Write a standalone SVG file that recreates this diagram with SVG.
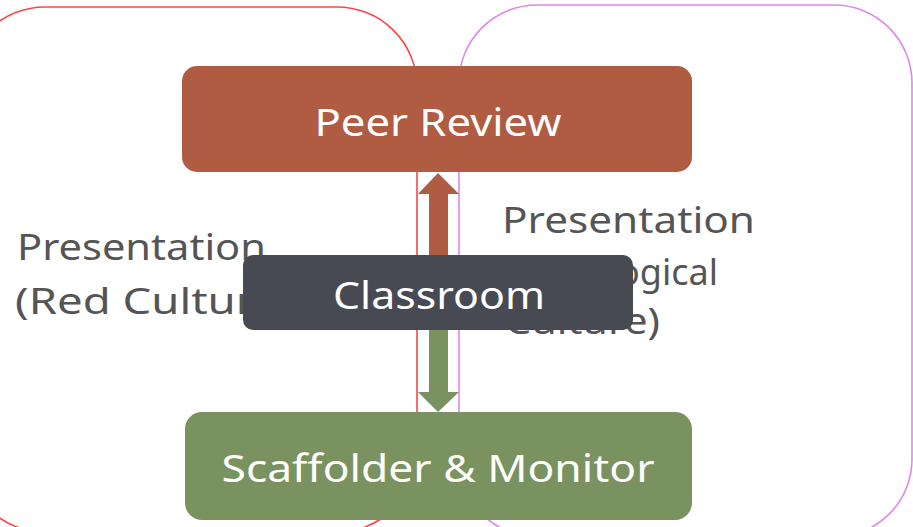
<svg xmlns="http://www.w3.org/2000/svg" width="913" height="527" viewBox="0 0 913 527">
  <style>
    .region { fill: none; stroke-width: 1.6; }
    .label { font-family: "Noto Sans", "Liberation Sans", sans-serif; font-size: 36px; fill: #555555; }
    .boxtext { font-family: "Noto Sans", "Liberation Sans", sans-serif; font-size: 38px; fill: #ffffff; text-anchor: middle; }
  </style>
  <rect width="913" height="527" fill="#ffffff"/>
  <g id="region-red-culture">
    <rect class="region" x="-35" y="7" width="452" height="525" rx="80" ry="80" stroke="#ff4545"/>
    <text class="label" x="17" y="260" textLength="249" lengthAdjust="spacingAndGlyphs">Presentation</text>
    <text class="label" x="15" y="314" textLength="278" lengthAdjust="spacingAndGlyphs">(Red Culture)</text>
  </g>
  <g id="region-ecological-culture">
    <rect class="region" x="459" y="5" width="453" height="532" rx="78" ry="78" stroke="#dd88e6"/>
    <text class="label" x="502" y="233" textLength="253" lengthAdjust="spacingAndGlyphs">Presentation</text>
    <text class="label" x="718" y="285" text-anchor="end">(Ecological</text>
    <text class="label" x="505" y="334" textLength="155" lengthAdjust="spacingAndGlyphs">Culture)</text>
  </g>
  <g id="connectors">
    <polygon points="438,173 459,194 448,194 448,256 429,256 429,194 418,194" fill="#b05c43"/>
    <polygon points="429,329 448,329 448,392 459,392 438,412 418,392 429,392" fill="#7a9260"/>
  </g>
  <g id="node-peer-review">
    <rect x="182" y="66" width="510" height="106" rx="15" ry="15" fill="#b05c43"/>
    <text class="boxtext" x="438" y="136" textLength="247" lengthAdjust="spacingAndGlyphs">Peer Review</text>
  </g>
  <g id="node-classroom">
    <rect x="243" y="255" width="390" height="75" rx="10" ry="10" fill="#474a52"/>
    <text class="boxtext" x="439" y="309" textLength="212" lengthAdjust="spacingAndGlyphs">Classroom</text>
  </g>
  <g id="node-scaffolder">
    <rect x="185" y="412" width="507" height="108" rx="17" ry="17" fill="#7a9260"/>
    <text class="boxtext" x="438" y="482" textLength="433" lengthAdjust="spacingAndGlyphs">Scaffolder &amp; Monitor</text>
  </g>
</svg>
